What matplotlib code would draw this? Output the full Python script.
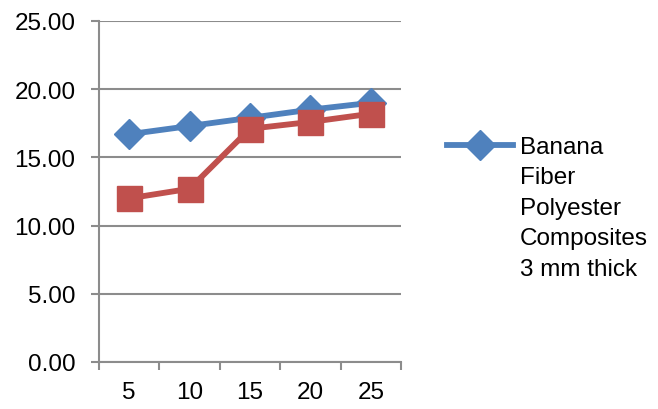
import numpy as np
import matplotlib.pyplot as plt
from matplotlib.lines import Line2D

plt.rcParams['font.family'] = ['Liberation Sans', 'DejaVu Sans']

# thickness categories and the two series
x_labels = ['5', '10', '15', '20', '25']
banana = [16.7, 17.3, 17.9, 18.5, 19.0]
second = [12.0, 12.7, 17.1, 17.6, 18.2]
legend_label = 'Banana\nFiber\nPolyester\nComposites\n3 mm thick'

blue = '#4F81BD'
red = '#C0504D'
grey = '#8C8C8C'
fs = 17.5

fig = plt.figure(figsize=(6.58, 4.10), dpi=100)
ax = fig.add_axes([99/658, 1-363/410, (401-99)/658, (363-22)/410])

pos = np.arange(1, len(x_labels) + 1)
ax.plot(pos, banana, color=blue, lw=4.2, marker='D', ms=15, zorder=3)
ax.plot(pos, second, color=red, lw=4.2, marker='s', ms=18, zorder=4)

ax.set_xlim(0.5, len(x_labels) + 0.5)
ax.set_ylim(0, 25)
ax.set_yticks(np.arange(0, 26, 5))
ax.set_yticklabels(['%.2f' % v for v in np.arange(0, 26, 5)])
ax.set_xticks(pos)
ax.set_xticklabels(x_labels)
ax.set_xticks(np.arange(0.5, len(x_labels) + 1), minor=True)

for s in ['top', 'right']:
    ax.spines[s].set_visible(False)
for s in ['left', 'bottom']:
    ax.spines[s].set_color(grey)
    ax.spines[s].set_linewidth(1.5)

ax.grid(axis='y', color=grey, lw=1.5, zorder=1)
ax.tick_params(axis='y', length=6, width=1.5, color=grey, pad=11, labelsize=fs)
ax.tick_params(axis='x', which='major', length=0, pad=14, labelsize=fs)
ax.tick_params(axis='x', which='minor', length=6, width=1.5, color=grey)
ax.set_axisbelow(True)

# legend drawn by hand so the handle sits on the first text line
fig.add_artist(Line2D([447/658, 513/658], [1-146/410, 1-146/410],
                      transform=fig.transFigure, color=blue, lw=4.2))
fig.add_artist(Line2D([480/658], [1-146/410], transform=fig.transFigure,
                      color=blue, marker='D', ms=15, lw=0))
fig.text(520/658, 1-137/410, legend_label, fontsize=fs, va='top',
         ha='left', linespacing=1.5)

fig.savefig('out.png', dpi=100)
